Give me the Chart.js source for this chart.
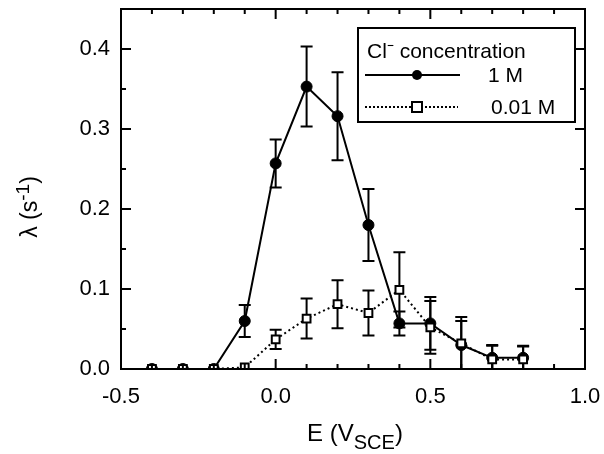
<!DOCTYPE html>
<html>
<head>
<meta charset="utf-8">
<script src="https://cdn.jsdelivr.net/npm/chart.js@4"></script>
<style>
  html, body { margin: 0; padding: 0; background: #fff; }
  #wrap { width: 604px; height: 454px; }
</style>
</head>
<body>
<div id="wrap"><canvas id="lambdaChart" width="604" height="454"></canvas></div>
<script>
// potential E (V vs SCE)
const potentials = [-0.4, -0.3, -0.2, -0.1, 0.0, 0.1, 0.2, 0.3, 0.4, 0.5, 0.6, 0.7, 0.8];
// 1 M Cl-
const lambda1M = [0, 0, 0, 0.06, 0.257, 0.353, 0.316, 0.18, 0.057, 0.057, 0.03, 0.014, 0.014];
const err1M = [0, 0, 0, 0.02, 0.03, 0.05, 0.055, 0.045, 0.015, 0.033, 0.03, 0.015, 0.015];
// 0.01 M Cl-
const lambda001M = [0, 0, 0, 0.002, 0.037, 0.063, 0.081, 0.07, 0.099, 0.052, 0.032, 0.012, 0.012];
const err001M = [0, 0, 0, 0, 0.012, 0.025, 0.03, 0.028, 0.047, 0.033, 0.033, 0.018, 0.016];

const xTickValues = [-0.5, 0.0, 0.5, 1.0];
const yTickValues = [0.0, 0.1, 0.2, 0.3, 0.4];
const legendTitle = "Cl\u207B concentration";
const legendLabels = ["1 M", "0.01 M"];

const FONT = "'Liberation Sans', Arial, Helvetica, sans-serif";

function toPoints(xs, ys) {
    return xs.map((x, i) => ({ x: x, y: ys[i] }));
}

// draws text pieces in a row: [text, size, dy]
function drawPieces(ctx, pieces, x, y) {
    let cx = x;
    pieces.forEach(([t, size, dy]) => {
        ctx.font = size + "px " + FONT;
        ctx.fillText(t, cx, y + dy);
        cx += ctx.measureText(t).width;
    });
}
function piecesWidth(ctx, pieces) {
    let w = 0;
    pieces.forEach(([t, size]) => {
        ctx.font = size + "px " + FONT;
        w += ctx.measureText(t).width;
    });
    return w;
}

// error bars, inward ticks, frame, legend and axis titles
const extrasPlugin = {
    id: "extras",
    beforeDatasetsDraw(chart) {
        const ctx = chart.ctx;
        const xs = chart.scales.x, ys = chart.scales.y;
        ctx.save();
        ctx.strokeStyle = "#000";
        ctx.lineWidth = 2;
        const sets = [[lambda1M, err1M], [lambda001M, err001M]];
        sets.forEach(([vals, errs]) => {
            potentials.forEach((p, i) => {
                if (!errs[i]) return;
                const px = xs.getPixelForValue(p);
                const top = ys.getPixelForValue(vals[i] + errs[i]);
                const bot = ys.getPixelForValue(Math.max(0, vals[i] - errs[i]));
                ctx.beginPath();
                ctx.moveTo(px, top); ctx.lineTo(px, bot);
                ctx.moveTo(px - 6, top); ctx.lineTo(px + 6, top);
                ctx.moveTo(px - 6, bot); ctx.lineTo(px + 6, bot);
                ctx.stroke();
            });
        });
        ctx.restore();
    },
    afterDraw(chart) {
        const ctx = chart.ctx;
        const a = chart.chartArea;
        const xs = chart.scales.x, ys = chart.scales.y;
        ctx.save();
        ctx.strokeStyle = "#000";
        ctx.lineWidth = 2;
        ctx.strokeRect(a.left, a.top, a.right - a.left, a.bottom - a.top);

        // ticks pointing inward on all four sides
        ctx.beginPath();
        for (let k = -5; k <= 10; k++) {
            const v = k / 10;
            const len = (k % 5 === 0) ? 10 : 5;
            const px = xs.getPixelForValue(v);
            ctx.moveTo(px, a.bottom); ctx.lineTo(px, a.bottom - len);
            ctx.moveTo(px, a.top); ctx.lineTo(px, a.top + len);
        }
        for (let k = 0; k <= 9; k++) {
            const v = k * 0.05;
            const len = (k % 2 === 0) ? 10 : 5;
            const py = ys.getPixelForValue(v);
            ctx.moveTo(a.left, py); ctx.lineTo(a.left + len, py);
            ctx.moveTo(a.right, py); ctx.lineTo(a.right - len, py);
        }
        ctx.stroke();

        ctx.fillStyle = "#000";
        ctx.textBaseline = "alphabetic";
        ctx.textAlign = "left";

        // x axis title with subscript
        const xt = [["E (V", 24, 0], ["SCE", 20, 8], [")", 24, 0]];
        const xw = piecesWidth(ctx, xt);
        drawPieces(ctx, xt, (a.left + a.right) / 2 + 2 - xw / 2, 441);

        // y axis title with superscript
        const yt = [["\u03BB (s", 23, 0], ["-1", 19, -8], [")", 23, 0]];
        const yw = piecesWidth(ctx, yt);
        ctx.save();
        ctx.translate(37, 207);
        ctx.rotate(-Math.PI / 2);
        drawPieces(ctx, yt, -yw / 2, 0);
        ctx.restore();

        // legend box
        const lx = 358, ly = 28, lw = 217, lh = 94;
        ctx.fillStyle = "#fff";
        ctx.fillRect(lx, ly, lw, lh);
        ctx.lineWidth = 2;
        ctx.strokeRect(lx, ly, lw, lh);
        ctx.fillStyle = "#000";
        ctx.textBaseline = "middle";
        ctx.font = "21px " + FONT;
        ctx.fillText(legendTitle, lx + 9, ly + 24);

        // row 1: solid line + filled circle
        let ry = ly + 47;
        ctx.beginPath();
        ctx.moveTo(lx + 7, ry); ctx.lineTo(lx + 102, ry);
        ctx.stroke();
        ctx.beginPath();
        ctx.arc(lx + 59, ry, 5, 0, Math.PI * 2);
        ctx.fill();
        ctx.fillText(legendLabels[0], lx + 130, ry + 1);

        // row 2: dotted line + open square
        ry = ly + 79;
        ctx.setLineDash([2, 2]);
        ctx.beginPath();
        ctx.moveTo(lx + 7, ry); ctx.lineTo(lx + 100, ry);
        ctx.stroke();
        ctx.setLineDash([]);
        ctx.fillStyle = "#fff";
        ctx.fillRect(lx + 54, ry - 5, 10, 10);
        ctx.strokeRect(lx + 54, ry - 5, 10, 10);
        ctx.fillStyle = "#000";
        ctx.fillText(legendLabels[1], lx + 133, ry + 1);
        ctx.restore();
    }
};

const ctx = document.getElementById("lambdaChart").getContext("2d");
window.lambdaChart = new Chart(ctx, {
    type: "line",
    data: {
        datasets: [
            {
                label: "0.01 M",
                data: toPoints(potentials, lambda001M),
                borderColor: "#000",
                borderWidth: 2,
                borderDash: [2, 3],
                pointStyle: "rect",
                pointRadius: 5.5,
                pointBackgroundColor: "#fff",
                pointBorderColor: "#000",
                pointBorderWidth: 2,
                fill: false,
                tension: 0
            },
            {
                label: "1 M",
                data: toPoints(potentials, lambda1M),
                borderColor: "#000",
                borderWidth: 2,
                pointStyle: "circle",
                pointRadius: 5.5,
                pointBackgroundColor: "#000",
                pointBorderColor: "#000",
                pointBorderWidth: 1,
                fill: false,
                tension: 0
            }
        ]
    },
    options: {
        responsive: false,
        animation: false,
        events: [],
        layout: { padding: { top: 9, right: 19, left: 0, bottom: 0 } },
        plugins: {
            legend: { display: false },
            tooltip: { enabled: false }
        },
        scales: {
            x: {
                type: "linear",
                min: -0.5,
                max: 1.0,
                grid: { display: false, drawTicks: false },
                border: { display: false },
                afterBuildTicks: s => { s.ticks = xTickValues.map(v => ({ value: v })); },
                afterFit: s => { s.height = 85; s.paddingLeft = 0; s.paddingRight = 0; },
                ticks: {
                    color: "#000",
                    padding: 15,
                    maxRotation: 0,
                    font: { family: FONT, size: 22 },
                    callback: v => v.toFixed(1)
                }
            },
            y: {
                type: "linear",
                min: 0,
                max: 0.45,
                grid: { display: false, drawTicks: false },
                border: { display: false },
                afterBuildTicks: s => { s.ticks = yTickValues.map(v => ({ value: v })); },
                afterFit: s => { s.width = 121; s.paddingTop = 0; s.paddingBottom = 0; },
                ticks: {
                    color: "#000",
                    padding: 11,
                    font: { family: FONT, size: 22 },
                    callback: v => v.toFixed(1)
                }
            }
        }
    },
    plugins: [extrasPlugin]
});
</script>
</body>
</html>
